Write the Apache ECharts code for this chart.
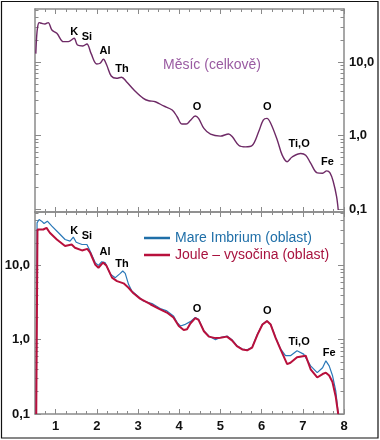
<!DOCTYPE html>
<html>
<head>
<meta charset="utf-8">
<script src="https://cdn.jsdelivr.net/npm/echarts@6/dist/echarts.min.js"></script>
<style>html,body{margin:0;padding:0;background:#fff}#c{width:380px;height:440px}</style>
</head>
<body>
<div id="c"></div>
<script>
// ---- tick values / labels ----
const xMajorTicks = [1, 2, 3, 4, 5, 6, 7, 8];
const xTickLabels = ['1', '2', '3', '4', '5', '6', '7', '8'];
const xMinorTicks = [0.75, 1.25, 1.5, 1.75, 2.25, 2.5, 2.75, 3.25, 3.5, 3.75, 4.25, 4.5, 4.75,
  5.25, 5.5, 5.75, 6.25, 6.5, 6.75, 7.25, 7.5, 7.75];
const yMajorTicks = [0.1, 1, 10];
const yTickLabels = ['0,1', '1,0', '10,0'];
const yMinorTicks = [0.2, 0.3, 0.4, 0.5, 0.6, 0.7, 0.8, 0.9, 2, 3, 4, 5, 6, 7, 8, 9, 20, 30, 40, 50];

// ---- top panel: Moon total ----
const moonName = 'Měsíc (celkově)';
const moonX = [0.52, 0.54, 0.56, 0.6, 0.66, 0.74, 0.82, 0.91, 1.03, 1.19, 1.31, 1.45, 1.53, 1.66, 1.76, 1.86,
  2.0, 2.08, 2.16, 2.24, 2.35, 2.48, 2.6, 2.72, 2.92, 3.13, 3.26, 3.42, 3.62, 3.83, 3.95, 4.07, 4.17, 4.27,
  4.39, 4.47, 4.6, 4.76, 5.0, 5.2, 5.29, 5.45, 5.61, 5.77, 5.93, 6.04, 6.13, 6.22, 6.38, 6.5, 6.62, 6.74,
  6.95, 7.07, 7.19, 7.35, 7.48, 7.58, 7.66, 7.74, 7.82, 7.86];
const moonY = [13, 22, 28.8, 34.3, 33.6, 32.9, 34.3, 27.2, 24.6, 18.9, 18.9, 21, 17, 16.5, 17.6, 13.1,
  9.4, 9.6, 10.9, 9.1, 6.45, 6.0, 6.2, 5.4, 4.07, 3.2, 2.97, 2.88, 2.52, 2.22, 1.8, 1.43, 1.43, 1.6,
  1.84, 1.71, 1.25, 1.04, 0.98, 1.05, 0.96, 0.73, 0.70, 0.73, 1.13, 1.62, 1.71, 1.47, 0.87, 0.54, 0.44, 0.51,
  0.57, 0.54, 0.42, 0.31, 0.306, 0.33, 0.31, 0.235, 0.147, 0.097];

// ---- bottom panel: Mare Imbrium (blue) ----
const blueName = 'Mare Imbrium (oblast)';
const blueX = [0.53, 0.55, 0.6, 0.66, 0.72, 0.8, 0.91, 1.07, 1.23, 1.35, 1.43, 1.5, 1.64, 1.76, 1.82, 1.96,
  2.04, 2.12, 2.2, 2.33, 2.45, 2.57, 2.63, 2.69, 2.77, 2.85, 2.97, 3.13, 3.34, 3.54, 3.7, 3.86, 3.95, 4.03,
  4.15, 4.27, 4.39, 4.47, 4.6, 4.72, 4.88, 5.0, 5.16, 5.28, 5.4, 5.53, 5.65, 5.77, 5.9, 6.02, 6.13, 6.22,
  6.34, 6.46, 6.58, 6.7, 6.86, 7.02, 7.19, 7.35, 7.48, 7.56, 7.64, 7.72, 7.8, 7.86];
const blueY = [0.1, 37.4, 41.4, 39.4, 36.6, 39.4, 33.7, 27.5, 22.3, 21.2, 24, 20.5, 19.1, 19.1, 16.4, 10.9,
  10, 11.2, 10.9, 7.57, 6.84, 7.8, 8.4, 7.8, 5.56, 4.52, 3.96, 3.32, 3.06, 2.62, 2.44, 2.09, 1.7, 1.53,
  1.61, 1.75, 1.99, 1.88, 1.31, 1.12, 1.0, 1.07, 1.12, 1.0, 0.83, 0.75, 0.73, 0.79, 1.19, 1.61, 1.79, 1.61,
  1.07, 0.75, 0.61, 0.61, 0.71, 0.64, 0.445, 0.36, 0.42, 0.52, 0.445, 0.33, 0.205, 0.1];

// ---- bottom panel: Joule highlands (red) ----
const redName = 'Joule – vysočina (oblast)';
const redX = [0.53, 0.56, 0.6, 0.7, 0.78, 0.86, 1.03, 1.23, 1.39, 1.47, 1.64, 1.77, 1.84, 1.96, 2.04, 2.15,
  2.23, 2.37, 2.49, 2.65, 2.77, 2.89, 3.05, 3.3, 3.5, 3.7, 3.86, 3.99, 4.11, 4.19, 4.27, 4.39, 4.47, 4.6,
  4.72, 4.88, 5.0, 5.16, 5.28, 5.4, 5.53, 5.65, 5.77, 5.9, 6.02, 6.13, 6.22, 6.34, 6.46, 6.62, 6.7, 6.86,
  7.07, 7.19, 7.35, 7.48, 7.56, 7.64, 7.72, 7.8, 7.86];
const redY = [0.1, 30.4, 32, 30.4, 32, 27.5, 22.3, 18.2, 19.1, 17.3, 15.9, 16.7, 14.8, 10.3, 9.3, 10.9,
  10, 6.84, 6.15, 5.73, 5.0, 4.21, 3.57, 3.0, 2.62, 2.32, 1.99, 1.53, 1.35, 1.38, 1.65, 1.95, 1.85, 1.3,
  1.1, 1.05, 1.06, 1.1, 0.98, 0.82, 0.74, 0.72, 0.78, 1.17, 1.6, 1.78, 1.6, 1.06, 0.74, 0.47, 0.49, 0.58,
  0.61, 0.40, 0.31, 0.345, 0.36, 0.33, 0.27, 0.17, 0.1];

// ---- element annotations ----
const annLabels = ['K', 'Si', 'Al', 'Th', 'O', 'O', 'Ti,O', 'Fe'];
const annTopX = [1.45, 1.76, 2.20, 2.61, 4.43, 6.14, 6.91, 7.60];
const annTopY = [25.4, 22.1, 14.3, 8.0, 2.47, 2.47, 0.77, 0.43];
const annBotX = [1.45, 1.76, 2.20, 2.61, 4.43, 6.14, 6.91, 7.64];
const annBotY = [29.5, 24.7, 15.1, 10.6, 2.57, 2.44, 0.92, 0.66];

const FONT = "'Liberation Sans', Arial, Helvetica, sans-serif";
const AX = '#8a8a8a';

function zip(xs, ys) { return xs.map((x, i) => [x, ys[i]]); }
function ann(xs, ys) { return xs.map((x, i) => ({ value: [x, ys[i]], name: annLabels[i] })); }

function xAxesFor(grid, showLabels) {
  const base = { type: 'value', gridIndex: grid, min: 0.5, max: 8, splitLine: { show: false } };
  const mk = (pos, major, lbl) => Object.assign({}, base, {
    position: pos,
    axisLine: { show: major, onZero: false, lineStyle: { color: AX, width: 1.5 } },
    axisTick: { show: true, inside: true, length: major ? 5 : 3,
      customValues: major ? xMajorTicks : xMinorTicks, lineStyle: { color: AX, width: 1 } },
    axisLabel: lbl ? { show: true, customValues: xMajorTicks, margin: 6,
      formatter: v => xTickLabels[xMajorTicks.indexOf(v)] || '',
      fontFamily: FONT, fontWeight: 'bold', fontSize: 13, color: '#111' } : { show: false }
  });
  return [mk('bottom', true, showLabels), mk('bottom', false, false), mk('top', true, false), mk('top', false, false)];
}

function yAxesFor(grid, min, max, labelSide) {
  const base = { type: 'log', logBase: 10, gridIndex: grid, min: min, max: max, splitLine: { show: false } };
  const mk = (pos, major, lbl) => Object.assign({}, base, {
    position: pos,
    axisLine: { show: major, onZero: false, lineStyle: { color: AX, width: 1.5 } },
    axisTick: { show: true, inside: true, length: major ? 6 : 3.5,
      customValues: major ? yMajorTicks : yMinorTicks, lineStyle: { color: AX, width: 1 } },
    axisLabel: lbl ? { show: true, customValues: yMajorTicks, margin: 5,
      formatter: v => { const i = yMajorTicks.findIndex(t => Math.abs(t - v) < t * 1e-6); return i >= 0 ? yTickLabels[i] : ''; },
      fontFamily: FONT, fontWeight: 'bold', fontSize: 13, color: '#111' } : { show: false }
  });
  return [mk('left', true, labelSide === 'left'), mk('left', false, false),
          mk('right', true, labelSide === 'right'), mk('right', false, false)];
}

const annLabelStyle = { show: true, position: 'inside', formatter: '{b}', fontFamily: FONT,
  fontWeight: 'bold', fontSize: 11, color: '#000', textBorderWidth: 0, textBorderColor: 'transparent' };

const chart = echarts.init(document.getElementById('c'), null, { renderer: 'canvas' });
chart.setOption({
  animation: false,
  backgroundColor: '#fff',
  grid: [
    { left: 35, right: 36, top: 9, height: 203 },
    { left: 35, right: 36, top: 212, height: 202 }
  ],
  xAxis: [].concat(xAxesFor(0, false), xAxesFor(1, true)),
  yAxis: [].concat(yAxesFor(0, 0.091, 52.6, 'right'), yAxesFor(1, 0.1, 52.3, 'left')),
  legend: {
    orient: 'vertical', left: 139, top: 226, itemWidth: 26, itemHeight: 2.5, itemGap: 3,
    icon: 'rect',
    textStyle: { fontFamily: FONT, fontSize: 14 },
    data: [
      { name: blueName, textStyle: { color: '#1f6fa8' } },
      { name: redName, textStyle: { color: '#a8123e' } }
    ]
  },
  graphic: [
    { type: 'text', left: 163, top: 58, style: { text: moonName, font: "14px 'Liberation Sans', Arial, sans-serif", fill: '#9a5ca2' } },
    { type: 'rect', shape: { x: 1.5, y: 1.5, width: 376.5, height: 436.5 }, style: { fill: 'none', stroke: '#111', lineWidth: 1.2 }, z: 100 }
  ],
  series: [
    { name: moonName, type: 'line', xAxisIndex: 0, yAxisIndex: 0, data: zip(moonX, moonY),
      symbol: 'none', smooth: 0.35, lineStyle: { color: '#6e2a66', width: 1.4 }, itemStyle: { color: '#6e2a66' } },
    { name: blueName, type: 'line', xAxisIndex: 4, yAxisIndex: 4, data: zip(blueX, blueY),
      symbol: 'none', lineStyle: { color: '#2a78b8', width: 1.2 }, itemStyle: { color: '#1f6fa8' }, z: 2 },
    { name: redName, type: 'line', xAxisIndex: 4, yAxisIndex: 4, data: zip(redX, redY),
      symbol: 'none', lineStyle: { color: '#b8103c', width: 2 }, itemStyle: { color: '#b8103c' }, z: 3 },
    { name: 'annTop', type: 'scatter', xAxisIndex: 0, yAxisIndex: 0, data: ann(annTopX, annTopY),
      symbolSize: 0, itemStyle: { opacity: 1, color: '#000' }, label: annLabelStyle, silent: true, z: 5 },
    { name: 'annBot', type: 'scatter', xAxisIndex: 4, yAxisIndex: 4, data: ann(annBotX, annBotY),
      symbolSize: 0, itemStyle: { opacity: 1, color: '#000' }, label: annLabelStyle, silent: true, z: 5 }
  ]
});
</script>
</body>
</html>
